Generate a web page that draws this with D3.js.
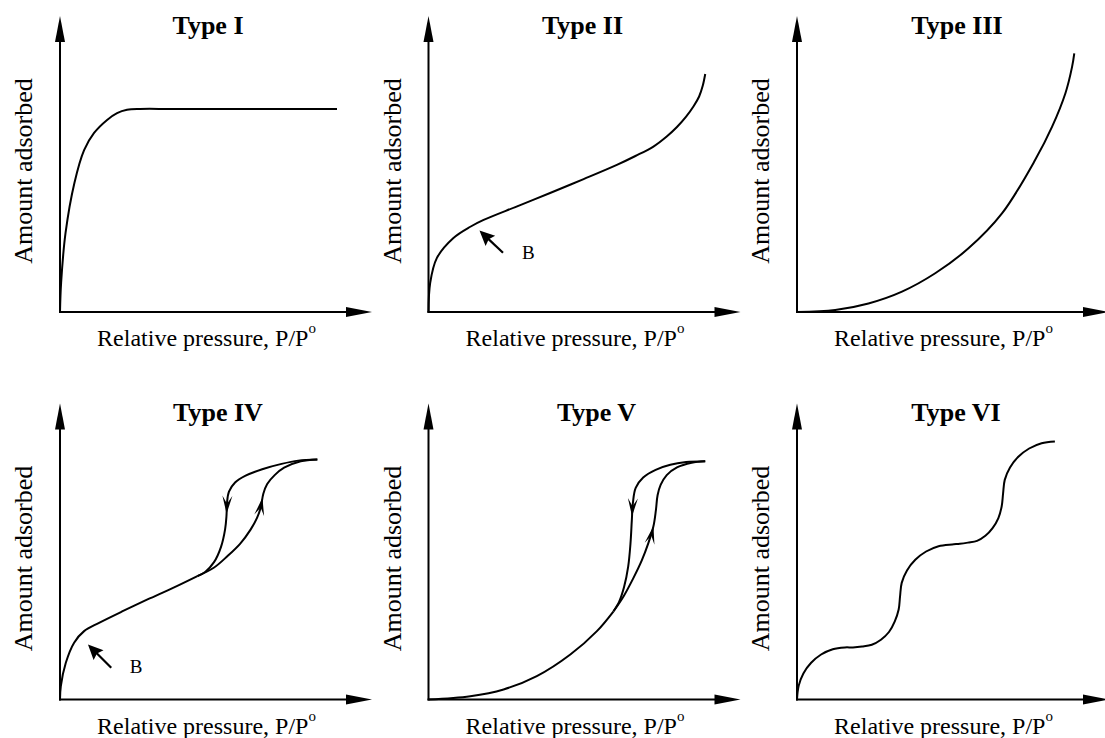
<!DOCTYPE html>
<html>
  <head>
    <meta charset="UTF-8">
    <title>Adsorption Isotherm Types</title>
    <style>
      body { margin: 0; background: #fff; }
    </style>
  </head>
  <body>
    <div id="chart"></div>

    <script src="https://d3js.org/d3.v7.min.js" charset="utf-8"></script>
    <script>

/* DATA */
// x = relative pressure P/P° (0..1), y = amount adsorbed (arbitrary units, 100 = top of the axis)

var titles = ["Type I", "Type II", "Type III", "Type IV", "Type V", "Type VI"];

var typeI = [[0, 0], [0.004, 9.8], [0.020, 26.7], [0.052, 43.6], [0.087, 54.7], [0.123, 60.5],
  [0.170, 64.9], [0.206, 67.2], [0.242, 68.3], [0.289, 68.6], [0.40, 68.6], [0.60, 68.6],
  [0.80, 68.6], [1.0, 68.6]];

var typeII = [[0, 0], [0.006, 9.8], [0.030, 18.2], [0.090, 25.0], [0.151, 28.8], [0.199, 31.1],
  [0.320, 35.7], [0.439, 40.2], [0.560, 44.9], [0.680, 49.7], [0.747, 52.7], [0.812, 55.9],
  [0.860, 59.3], [0.897, 62.5], [0.930, 66.0], [0.957, 69.5], [0.977, 72.8], [0.990, 76.4], [0.999, 80.4]];

var typeIII = [[0, 0], [0.138, 0.7], [0.258, 2.9], [0.379, 6.9], [0.499, 13.1], [0.619, 21.5],
  [0.740, 33.3], [0.860, 51.4], [0.921, 62.6], [0.969, 73.9], [0.993, 82.8], [1.001, 87.4]];

var typeIVMain = [[0, 0], [0.003, 4.5], [0.021, 12.4], [0.051, 19.2], [0.087, 23.1], [0.141, 25.9],
  [0.230, 30.0], [0.316, 33.8], [0.410, 37.8], [0.496, 41.7]];
var typeIVAds = [[0.496, 41.7], [0.555, 44.5], [0.604, 48.4], [0.650, 52.6], [0.688, 57.4],
  [0.712, 61.5], [0.725, 65.0], [0.734, 69.5], [0.748, 72.8], [0.775, 75.8], [0.809, 78.3],
  [0.869, 80.5], [0.929, 81.1]];
var typeIVDes = [[0.929, 81.1], [0.860, 80.7], [0.800, 79.6], [0.730, 77.8], [0.670, 75.6],
  [0.632, 73.3], [0.610, 70.2], [0.603, 66.5], [0.601, 62.0], [0.596, 57.5], [0.581, 51.5],
  [0.556, 46.4], [0.524, 43.1], [0.496, 41.7]];

var typeVMain = [[0, 0], [0.151, 1.1], [0.271, 3.4], [0.391, 7.9], [0.512, 15.2], [0.608, 23.1], [0.668, 29.8]];
var typeVAds = [[0.668, 29.8], [0.705, 35.0], [0.740, 41.1], [0.770, 47.0], [0.794, 52.9],
  [0.812, 58.5], [0.821, 64.0], [0.827, 69.0], [0.838, 72.5], [0.860, 75.8], [0.897, 78.4],
  [0.950, 80.0], [0.999, 80.5]];
var typeVDes = [[0.999, 80.5], [0.930, 80.2], [0.873, 79.3], [0.820, 77.6], [0.775, 75.0],
  [0.748, 71.5], [0.738, 66.5], [0.734, 60.5], [0.729, 52.5], [0.721, 45.0], [0.706, 38.0],
  [0.688, 33.0], [0.668, 29.8]];

var typeVI = [[0, 0], [0.006, 4.6], [0.023, 8.8], [0.051, 12.4], [0.087, 15.2], [0.129, 17.0],
  [0.173, 17.6], [0.202, 17.6], [0.235, 17.9], [0.270, 18.5], [0.303, 20.2], [0.332, 22.8],
  [0.353, 26.4], [0.367, 30.4], [0.372, 34.8], [0.378, 39.4], [0.397, 43.6], [0.427, 47.2],
  [0.466, 50.0], [0.511, 51.8], [0.560, 52.4], [0.588, 52.6], [0.617, 53.0], [0.650, 53.6],
  [0.680, 55.3], [0.706, 57.9], [0.727, 61.3], [0.739, 65.3], [0.744, 69.6], [0.750, 74.2],
  [0.769, 78.4], [0.799, 82.0], [0.838, 84.8], [0.883, 86.6], [0.931, 87.2]];

// direction arrows on the hysteresis loops (point where the tip sits)
var typeIVArrows = [{branch: 2, at: [0.602, 62.8]}, {branch: 1, at: [0.731, 68.1]}];
var typeVArrows = [{branch: 2, at: [0.734, 61.9]}, {branch: 1, at: [0.816, 58.5]}];

// "B" point annotations: arrow tip, arrow tail, label position
var typeIIB = {tip: [0.184, 27.5], tail: [0.269, 20.0], label: [0.360, 17.8]};
var typeIVB = {tip: [0.101, 18.6], tail: [0.185, 10.7], label: [0.275, 8.8]};

var xLabel = "Relative pressure, P/P";
var yLabel = "Amount adsorbed";

/* LAYOUT */
var config = {
  width: 1105,
  height: 738,
  font: "'Liberation Serif', 'Times New Roman', Times, serif",
  cols: [60, 428.5, 797],      // y-axis position of each column
  rows: [312, 699.5],          // x-axis position of each row
  plotW: 277,                  // pixels for P/P° = 0..1
  axisW: 312,
  axisH: 296,
  titleDx: [148, 154, 160, 158, 168, 159]
};

var panels = [
  {branches: [typeI], arrows: [], b: null},
  {branches: [typeII], arrows: [], b: typeIIB},
  {branches: [typeIII], arrows: [], b: null},
  {branches: [typeIVMain, typeIVAds, typeIVDes], arrows: typeIVArrows, b: typeIVB},
  {branches: [typeVMain, typeVAds, typeVDes], arrows: typeVArrows, b: null},
  {branches: [typeVI], arrows: [], b: null}
];

var svg = d3.select("#chart").append("svg")
  .attr("width", config.width)
  .attr("height", config.height)
  .attr("font-family", config.font);

svg.append("rect")
  .attr("width", config.width)
  .attr("height", config.height)
  .attr("fill", "#fff");

// filled arrow head; tip at (tx,ty), pointing along unit (dx,dy)
function headPath(tx, ty, dx, dy, len, hw, notch) {
  var bx = tx - dx * len, by = ty - dy * len;
  var nx = -dy, ny = dx;
  var mx = tx - dx * len * notch, my = ty - dy * len * notch;
  return "M" + tx + "," + ty +
    "L" + (bx + nx * hw) + "," + (by + ny * hw) +
    "L" + mx + "," + my +
    "L" + (bx - nx * hw) + "," + (by - ny * hw) + "Z";
}

panels.forEach(function(p, i) {
  var ox = config.cols[i % 3],
    oy = config.rows[Math.floor(i / 3)];

  var x = d3.scaleLinear().domain([0, 1]).range([ox, ox + config.plotW]);
  var y = d3.scaleLinear().domain([0, 100]).range([oy, oy - config.axisH]);

  var g = svg.append("g").attr("class", "panel");

  // axes with arrow heads
  var xEnd = ox + config.axisW, yEnd = oy - config.axisH;
  g.append("line")
    .attr("x1", ox - 1).attr("y1", oy).attr("x2", xEnd - 20).attr("y2", oy)
    .attr("stroke", "#000").attr("stroke-width", 2);
  g.append("line")
    .attr("x1", ox).attr("y1", oy + 1).attr("x2", ox).attr("y2", yEnd + 20)
    .attr("stroke", "#000").attr("stroke-width", 2);
  g.append("path").attr("d", headPath(xEnd, oy, 1, 0, 26, 5, 1)).attr("fill", "#000");
  g.append("path").attr("d", headPath(ox, yEnd, 0, -1, 26, 5, 1)).attr("fill", "#000");

  // title
  g.append("text")
    .attr("x", ox + config.titleDx[i])
    .attr("y", oy - 278.5)
    .attr("text-anchor", "middle")
    .attr("font-size", 26)
    .attr("font-weight", "bold")
    .text(titles[i]);

  // axis labels
  var xl = g.append("text")
    .attr("x", ox + 146.5)
    .attr("y", oy + 34)
    .attr("text-anchor", "middle")
    .attr("font-size", 24)
    .text(xLabel);
  xl.append("tspan")
    .attr("dy", -13)
    .attr("font-size", 15)
    .text("o");

  g.append("text")
    .attr("transform", "translate(" + (ox - 28) + "," + (oy - 141) + ") rotate(-90)")
    .attr("text-anchor", "middle")
    .attr("font-size", 26)
    .text(yLabel);

  // curves
  var line = d3.line()
    .x(function(d) { return x(d[0]); })
    .y(function(d) { return y(d[1]); })
    .curve(d3.curveCatmullRom.alpha(0.5));

  var paths = p.branches.map(function(b) {
    return g.append("path")
      .datum(b)
      .attr("d", line)
      .attr("fill", "none")
      .attr("stroke", "#000")
      .attr("stroke-width", 2)
      .attr("stroke-linejoin", "round")
      .node();
  });

  // hysteresis direction arrows
  p.arrows.forEach(function(a) {
    var node = paths[a.branch],
      total = node.getTotalLength(),
      px = x(a.at[0]), py = y(a.at[1]),
      best = 0, bestD = Infinity;
    for (var L = 0; L <= total; L += 0.5) {
      var pt = node.getPointAtLength(L);
      var dd = (pt.x - px) * (pt.x - px) + (pt.y - py) * (pt.y - py);
      if (dd < bestD) { bestD = dd; best = L; }
    }
    var p0 = node.getPointAtLength(Math.max(0, best - 4)),
      p1 = node.getPointAtLength(Math.min(total, best + 4)),
      tip = node.getPointAtLength(best);
    var vx = p1.x - p0.x, vy = p1.y - p0.y, vl = Math.sqrt(vx * vx + vy * vy);
    g.append("path")
      .attr("d", headPath(tip.x, tip.y, vx / vl, vy / vl, 18, 5, 0.55))
      .attr("fill", "#000");
  });

  // "B" knee annotation
  if (p.b) {
    var tx = x(p.b.tip[0]), ty = y(p.b.tip[1]),
      sx = x(p.b.tail[0]), sy = y(p.b.tail[1]);
    var dx = tx - sx, dy = ty - sy, dl = Math.sqrt(dx * dx + dy * dy);
    dx /= dl; dy /= dl;
    g.append("line")
      .attr("x1", sx).attr("y1", sy)
      .attr("x2", tx - dx * 11).attr("y2", ty - dy * 11)
      .attr("stroke", "#000").attr("stroke-width", 2.2);
    g.append("path")
      .attr("d", headPath(tx, ty, dx, dy, 15, 7, 0.85))
      .attr("fill", "#000");
    g.append("text")
      .attr("x", x(p.b.label[0]))
      .attr("y", y(p.b.label[1]))
      .attr("text-anchor", "middle")
      .attr("font-size", 19)
      .text("B");
  }
});

    </script>
  </body>
</html>
